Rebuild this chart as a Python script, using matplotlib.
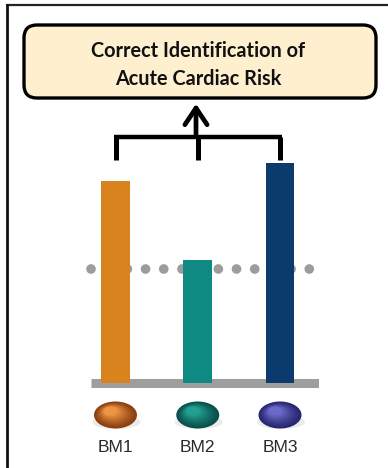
import numpy as np
import matplotlib.pyplot as plt
from matplotlib.patches import FancyBboxPatch, Ellipse

# biomarker readings (relative units) and the decision threshold
markers = ["BM1", "BM2", "BM3"]
values = [92, 56, 100]
threshold = 52
bar_colors = ["#D9831F", "#0E8A83", "#0B3A6C"]
ball_colors = [("#EE9444", "#8A3F10"), ("#22A090", "#0A4F4A"), ("#6A6AC8", "#262670")]
title_lines = ["Correct Identification of", "Acute Cardiac Risk"]

W, H = 388, 468
fig = plt.figure(figsize=(W / 100, H / 100), dpi=100)

# overlay axes in pixel coordinates for frame, box, bracket and arrow
ov = fig.add_axes([0, 0, 1, 1])
ov.set_xlim(0, W)
ov.set_ylim(H, 0)
ov.axis("off")

# partial frame (top and left only)
ov.plot([6, W], [5, 5], color="#222222", lw=1.6, solid_capstyle="butt")
ov.plot([6.5, 6.5], [4.3, H], color="#111111", lw=2.0, solid_capstyle="butt")

# header box
box = FancyBboxPatch((24, 25), 352, 73, boxstyle="round,pad=0,rounding_size=13",
                     fc="#FEF0CE", ec="black", lw=2.4)
ov.add_patch(box)
ov.text(198, 51, title_lines[0], ha="center", va="center", fontsize=14.3,
        fontweight="bold", family="Lato", color="#111111")
ov.text(198, 79, title_lines[1], ha="center", va="center", fontsize=14.3,
        fontweight="bold", family="Lato", color="#111111")

# chart axes: bars sit on a gray base, dotted threshold across
ax = fig.add_axes([91 / W, 1 - 390 / H, (319 - 91) / W, (390 - 150) / H])
px_per_unit = 2.2
ax.set_ylim(-(390 - 383) / px_per_unit, (383 - 150) / px_per_unit)
spacing = 82.25
ax.set_xlim(-(115.5 - 91) / spacing, 2 + (319 - 280) / spacing)
ax.axis("off")

x = np.arange(len(markers))
ax.bar(x, values, width=0.35, color=bar_colors, zorder=3)
ax.axhline(0.2, color="#9E9E9E", lw=6.5, zorder=2, solid_capstyle="butt")
ax.plot([-0.3, 2.42], [threshold, threshold], color="#9C9C9C", lw=7,
        linestyle=(0, (0.001, 1.87)), dash_capstyle="round", zorder=1,
        clip_on=False)

# bracket joining the three bars, arrow up to the box
bracket_y = (383 - 137) / px_per_unit
leg_y = (383 - 160) / px_per_unit
for xi in x:
    ax.plot([xi, xi], [leg_y, bracket_y], color="black", lw=3.6,
            solid_capstyle="butt", clip_on=False)
ax.plot([x[0] - 0.02, x[-1] + 0.02], [bracket_y, bracket_y], color="black",
        lw=3.2, solid_capstyle="butt", clip_on=False)
ov.annotate("", xy=(196, 101), xytext=(196, 137),
            arrowprops=dict(arrowstyle="->,head_length=1.2,head_width=0.8",
                            lw=3.4, color="black"))

# shaded marker balls and labels under each bar
for xi, name, (light, dark) in zip(x, markers, ball_colors):
    cx = ax.transData.transform((xi, 0))[0]
    cx = fig.transFigure.inverted().transform((cx, 0))[0] * W
    ov.add_patch(Ellipse((cx + 1, 422), 48, 14, fc="#D8D8D8", ec="none", alpha=0.5))
    steps = 16
    c1 = np.array(plt.matplotlib.colors.to_rgb(dark))
    c2 = np.array(plt.matplotlib.colors.to_rgb(light))
    for i in range(steps):
        f = i / (steps - 1)
        col = c1 * (1 - f) + c2 * f
        s = 1 - 0.7 * f ** 0.8
        ov.add_patch(Ellipse((cx - 5 * f, 415 - 4 * f), 43 * s, 27 * s,
                             fc=col, ec="none"))
    ov.text(cx, 448, name, ha="center", va="center", fontsize=12.5,
            family="Liberation Sans", color="#2A2A2A")

fig.savefig("out.png", dpi=100)
